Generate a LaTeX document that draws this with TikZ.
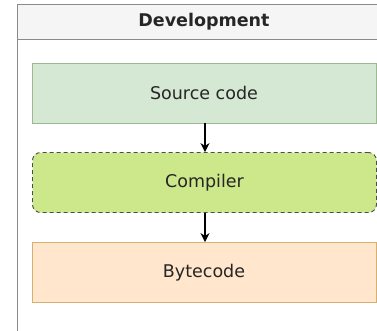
\documentclass[tikz,border=0pt]{standalone}
\usepackage{fontspec}
\setmainfont{DejaVu Sans}
\usetikzlibrary{arrows.meta}
\definecolor{lanefill}{HTML}{F5F5F5}
\definecolor{laneline}{HTML}{8A8A8A}
\definecolor{srcfill}{HTML}{D5E8D4}
\definecolor{srcline}{HTML}{9DB893}
\definecolor{compfill}{HTML}{CDE78B}
\definecolor{compline}{HTML}{4A4D48}
\definecolor{bytefill}{HTML}{FFE6CC}
\definecolor{byteline}{HTML}{D6B071}
\definecolor{txt}{HTML}{262626}
\tikzset{
  stagebox/.style={minimum width=344pt, minimum height=60pt, inner sep=0pt,
    line width=0.9pt, font=\fontsize{17.5}{20}\selectfont, text=txt},
  flow/.style={line width=1.2pt, draw=black, -{Stealth[length=9pt,width=9pt]}}
}
\begin{document}
\begin{tikzpicture}[x=1pt,y=-1pt]
  \useasboundingbox (0,0) rectangle (377,330);
  \fill[white] (0,0) rectangle (377,330);
  \clip (0,0) rectangle (377,330);
  % swimlane frame with header band
  \fill[lanefill] (17,4.5) rectangle (400,39.5);
  \draw[laneline, line width=1pt] (17,345) -- (17,4.5) -- (400,4.5);
  \draw[laneline, line width=1pt] (17,39.5) -- (400,39.5);
  \node[font=\bfseries\fontsize{17.5}{20}\selectfont, text=txt] (lane) at (204,22) {Development};
  % pipeline stages
  \node[stagebox, fill=srcfill, draw=srcline] (src) at (204,93) {Source code};
  \node[stagebox, fill=compfill, draw=compline, dashed, dash pattern=on 4pt off 3pt,
        rounded corners=8pt] (comp) at (204.5,182.5) {Compiler};
  \node[stagebox, fill=bytefill, draw=byteline] (byte) at (204,272.5) {Bytecode};
  % connectors
  \draw[flow] (src.south -| 205,0) -- (comp.north -| 205,0);
  \draw[flow] (comp.south -| 205,0) -- (byte.north -| 205,0);
\end{tikzpicture}
\end{document}
